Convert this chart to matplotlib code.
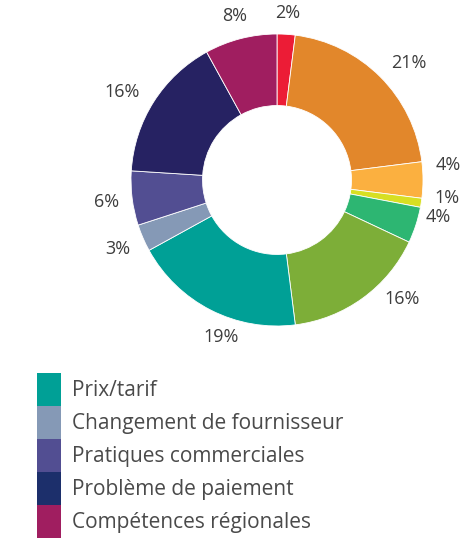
import numpy as np
import matplotlib.pyplot as plt

plt.rcParams['font.family'] = ['Open Sans', 'DejaVu Sans']

# Données (ordre horaire depuis midi)
parts = [2, 21, 4, 1, 4, 16, 19, 3, 6, 16, 8]
couleurs = ['#ec1c36', '#e2872b', '#fbb040', '#d7df23', '#2db672', '#7dae38',
            '#00a096', '#8599b6', '#524e92', '#262262', '#a01e60']
legende_labels = ['Prix/tarif', 'Changement de fournisseur', 'Pratiques commerciales',
                  'Problème de paiement', 'Compétences régionales']
legende_index = [6, 7, 8, 9, 10]
# la légende d'origine a un bleu marine un peu différent
legende_couleurs = ['#00a096', '#8599b6', '#524e92', '#1c2f6b', '#a01e60']

W, H = 462, 538
PX = 146  # rayon du donut en pixels
fig = plt.figure(figsize=(W / 100, H / 100), dpi=100)

# axe du donut : centre à (277, 180) px
ax = fig.add_axes([0, 1 - 360 / H, 1, 360 / H])
wedges, texts, autotexts = ax.pie(
    parts, colors=couleurs, startangle=90, counterclock=False,
    autopct='%d%%', pctdistance=1.1,
    wedgeprops=dict(width=0.49, edgecolor='white', linewidth=0.6),
    textprops=dict(fontsize=13, color='#3d3d3d'))

# étiquettes placées juste à l'extérieur, selon la taille du texte
decalage = {1: (0.05, -0.05), 2: (0, 0.10), 3: (0, 0.06), 4: (-0.02, 0.11),
            5: (0.15, 0.154), 6: (0.154, -0.02), 9: (-0.035, -0.05)}
for i, (w, t) in enumerate(zip(wedges, autotexts)):
    a = np.deg2rad((w.theta1 + w.theta2) / 2)
    dx, dy = np.cos(a), np.sin(a)
    hw = 17 if len(t.get_text()) > 2 else 12
    r = 1.09 + (abs(dx) * hw + abs(dy) * 7) / PX
    ox, oy = decalage.get(i, (0, 0))
    t.set_position((r * dx + ox, r * dy + oy))

ax.set_xlim(-277 / PX, (W - 277) / PX)
ax.set_ylim(-180 / PX, 180 / PX)
ax.set_aspect('auto')
ax.axis('off')

fs = 15
leg = fig.legend([wedges[i] for i in legende_index], legende_labels,
                 loc='upper left', bbox_to_anchor=(37 / W, 1 - 373 / H),
                 bbox_transform=fig.transFigure, frameon=False,
                 borderpad=0, borderaxespad=0, labelspacing=0,
                 handlelength=1.15, handleheight=2.06, handletextpad=0.53,
                 fontsize=fs)
for t in leg.get_texts():
    t.set_color('#4a4a4a')
for h, c in zip(leg.legend_handles, legende_couleurs):
    h.set_facecolor(c)
    h.set_edgecolor('none')

fig.savefig('out.png', dpi=100)
